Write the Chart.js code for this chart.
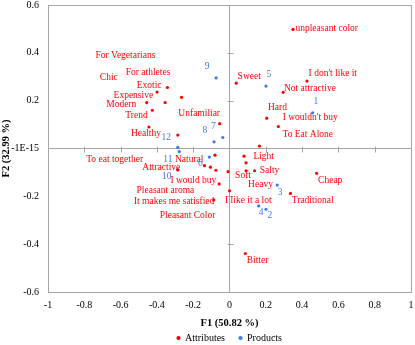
<!DOCTYPE html>
<html>
<head>
<meta charset="utf-8">
<script src="https://cdn.jsdelivr.net/npm/chart.js@4.4.1/dist/chart.umd.min.js"></script>
<style>
  body { margin: 0; background: #fff; }
  canvas { display: block; }
</style>
</head>
<body>
<canvas id="biplot" width="415" height="345"></canvas>
<script>
'use strict'

// attributes (red points)
const attrNames = [
  'unpleasant color', 'Sweet', "I don't like it", 'Not attractive', 'Hard', "I wouldn't buy", 'To Eat Alone',
  'Exotic', 'Expensive', 'For athletes', 'Modern', 'For Vegetarians', 'Trend', 'Chic', 'Healthy',
  'Unfamiliar', 'Natural', 'To eat together', 'Pleasant aroma', 'Pleasant Color', '',
  'Light', 'Heavy', 'Soft', 'Salty', 'Attractive', 'I would buy', 'I like it a lot', 'It makes me satisfied',
  'Cheap', 'Traditional', 'Bitter'
];
const attrF1 = [
  0.350, 0.037, 0.427, 0.296, 0.205, 0.269, 0.165,
  -0.342, -0.399, -0.264, -0.456, -0.355, -0.425, -0.444, -0.285,
  -0.054, -0.080, -0.138, -0.105, -0.075, -0.008,
  0.080, 0.091, 0.091, 0.138, -0.285, -0.057, 0.000, -0.087,
  0.480, 0.336, 0.087
];
const attrF2 = [
  0.498, 0.273, 0.282, 0.235, 0.127, 0.092, 0.010,
  0.255, 0.236, 0.214, 0.192, 0.192, 0.160, 0.090, 0.056,
  0.104, -0.028, -0.072, -0.078, -0.091, -0.097,
  -0.032, -0.060, -0.093, -0.093, -0.089, -0.148, -0.177, -0.215,
  -0.104, -0.188, -0.439
];

// products (blue points)
const prodNames = ['1', '2', '3', '4', '5', '6', '7', '8', '9', '10', '11', '12'];
const prodF1 = [0.458, 0.201, 0.263, 0.161, 0.201, -0.111, -0.037, -0.085, -0.074, -0.285, -0.277, -0.285];
const prodF2 = [0.149, -0.254, -0.153, -0.240, 0.261, -0.036, 0.046, 0.028, 0.295, -0.089, -0.013, 0.005];

const xTickLabels = ['-1', '-0.8', '-0.6', '-0.4', '-0.2', '0', '0.2', '0.4', '0.6', '0.8', '1'];
const yTickLabels = ['-0.6', '-0.4', '-0.2', '-1E-15', '0.2', '0.4', '0.6'];

// where each name sits relative to its dot (px, text centre)
const attrLabelPos = [
  [33.7, -1], [13, -6.3], [25.8, -7.7], [26.7, -3.3], [10.8, -10.3], [31.9, -8.6], [48.3, -11.7],
  [-18.3, -1.6], [-23.7, 3.5], [-33.5, -25.3], [-25.5, 1.7], [-39.6, -46.6], [-15.9, 5.3], [-40.1, -49.4], [-31.8, -1.3],
  [-20.5, -10.2], [-25.8, 4], [-89.8, -5.8], [-45, 23.3], [-28.3, 45.7], [0, 0],
  [19.7, 0.7], [14.5, 21.3], [-3, 5.2], [15, -0.5], [-16.5, -2.4], [-25.8, -3.8], [18.8, 9.3], [-39.6, 1.9],
  [13.6, 7], [22.2, 6.8], [12.2, 7]
];
const prodLabelPos = [
  [3.3, -11], [4, 6.7], [2.8, 7], [2.5, 6.6], [3, -11.7], [-9, 6.3],
  [-9.5, -11.2], [-9.3, -11.5], [-9, -11], [-11, 7], [-11.4, 7.8], [-11.5, -10.3]
];

const RED = '#ff0000';
const BLUE = '#3d78f5';
const AXIS = '#a6a6a6';
const NONE = 'rgba(0,0,0,0)';
const SERIF = '"Liberation Serif", "Times New Roman", serif';

const toPoints = (xs, ys) => xs.map((v, i) => ({x: v, y: ys[i]}));

// names next to the dots
const pointLabels = {
  id: 'pointLabels',
  afterDatasetsDraw(chart) {
    const ctx = chart.ctx;
    ctx.save();
    ctx.font = '9.5px ' + SERIF;
    ctx.textAlign = 'center';
    ctx.textBaseline = 'middle';
    chart.data.datasets.forEach((ds, di) => {
      ctx.fillStyle = ds.backgroundColor;
      chart.getDatasetMeta(di).data.forEach((pt, i) => {
        const txt = ds.names[i];
        if (!txt) return;
        const off = ds.labelPos[i];
        ctx.fillText(txt, pt.x + off[0], pt.y + off[1]);
      });
    });
    ctx.restore();
  }
};

// small tick marks across the two zero lines
const zeroTicks = {
  id: 'zeroTicks',
  beforeDatasetsDraw(chart) {
    const {ctx, scales: {x, y}} = chart;
    const x0 = Math.round(x.getPixelForValue(0)) + 0.5;
    const y0 = Math.round(y.getPixelForValue(0)) + 0.5;
    ctx.save();
    ctx.strokeStyle = AXIS;
    ctx.lineWidth = 1;
    ctx.beginPath();
    x.ticks.forEach(t => {
      if (t.value === x.min || t.value === x.max || t.value === 0) return;
      const px = Math.round(x.getPixelForValue(t.value)) + 0.5;
      ctx.moveTo(px, y0 - 3);
      ctx.lineTo(px, y0 + 3);
    });
    y.ticks.forEach(t => {
      if (t.value === y.min || t.value === y.max || t.value === 0) return;
      const py = Math.round(y.getPixelForValue(t.value)) + 0.5;
      ctx.moveTo(x0 - 3, py);
      ctx.lineTo(x0 + 3, py);
    });
    ctx.stroke();
    ctx.restore();
  }
};

// only the frame and the zero lines are drawn from the grid
const frameLine = (min, max) => c =>
  (c.tick && (c.tick.value === min || c.tick.value === max || c.tick.value === 0)) ? AXIS : NONE;

new Chart(document.getElementById('biplot'), {
  type: 'scatter',
  data: {
    datasets: [
      {
        label: 'Attributes',
        data: toPoints(attrF1, attrF2),
        names: attrNames,
        labelPos: attrLabelPos,
        backgroundColor: RED,
        borderColor: RED,
        borderWidth: 0,
        pointRadius: 1.6
      },
      {
        label: 'Products',
        data: toPoints(prodF1, prodF2),
        names: prodNames,
        labelPos: prodLabelPos,
        backgroundColor: BLUE,
        borderColor: BLUE,
        borderWidth: 0,
        pointRadius: 1.6
      }
    ]
  },
  options: {
    responsive: false,
    animation: false,
    devicePixelRatio: 1,
    layout: { padding: { top: 5, right: 4, left: 0, bottom: -8 } },
    plugins: {
      tooltip: { enabled: false },
      legend: {
        position: 'bottom',
        fullSize: false,
        labels: {
          usePointStyle: true,
          pointStyle: 'circle',
          boxWidth: 3,
          boxHeight: 3,
          padding: 14,
          color: '#000',
          font: { family: SERIF, size: 10 }
        }
      }
    },
    scales: {
      x: {
        type: 'linear',
        min: -1,
        max: 1,
        ticks: {
          stepSize: 0.2,
          padding: 0,
          color: '#000',
          font: { family: SERIF, size: 10 },
          callback: (v, i) => xTickLabels[i]
        },
        // invisible tick marks keep the labels off the frame
        grid: { drawTicks: true, tickLength: 7, tickColor: NONE, color: frameLine(-1, 1) },
        border: { color: AXIS },
        title: {
          display: true,
          text: 'F1 (50.82 %)',
          color: '#000',
          font: { family: SERIF, size: 10.5, weight: 'bold' },
          padding: { top: 0, bottom: -10.6 }
        },
        afterFit: s => { s.height = 27; }
      },
      y: {
        type: 'linear',
        min: -0.6,
        max: 0.6,
        ticks: {
          stepSize: 0.2,
          padding: 0,
          color: '#000',
          font: { family: SERIF, size: 10, lineHeight: 1 },
          callback: (v, i) => yTickLabels[i]
        },
        grid: { drawTicks: true, tickLength: 9, tickColor: NONE, color: frameLine(-0.6, 0.6) },
        border: { color: AXIS },
        title: {
          display: true,
          text: 'F2 (32.99 %)',
          color: '#000',
          font: { family: SERIF, size: 10.5, weight: 'bold' },
          padding: { top: 0, bottom: 0 }
        },
        afterFit: s => { s.width = 48; }
      }
    }
  },
  plugins: [zeroTicks, pointLabels]
});
</script>
</body>
</html>
